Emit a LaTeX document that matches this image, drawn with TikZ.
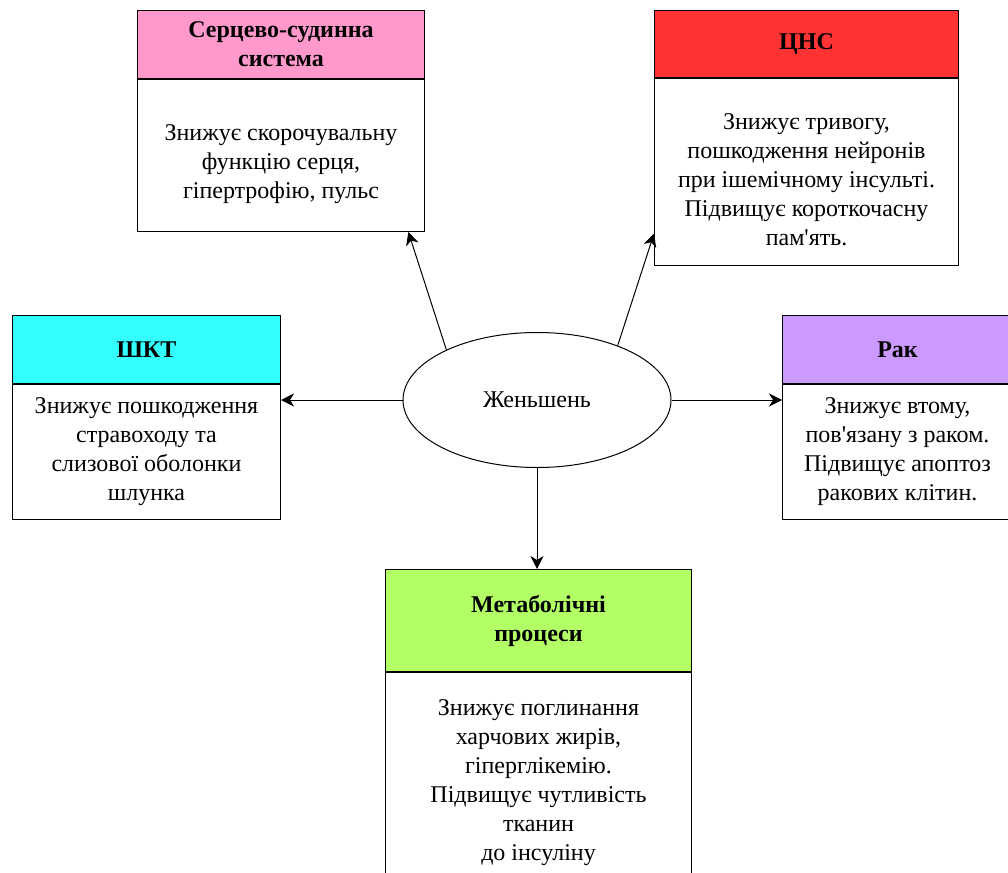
\documentclass[tikz,border=0pt]{standalone}
\usepackage{fontspec}
\setmainfont{Liberation Serif}
\usetikzlibrary{arrows.meta}
\usetikzlibrary{positioning}
\usetikzlibrary{shapes.geometric}
\definecolor{cardPink}{RGB}{255,153,204}
\definecolor{cardRed}{RGB}{255,51,51}
\definecolor{cardCyan}{RGB}{51,255,255}
\definecolor{cardViolet}{RGB}{204,153,255}
\definecolor{cardGreen}{RGB}{179,255,102}
\tikzset{head/.style = {draw, line width = 1, anchor = north west, align = center,
                        inner sep = 0, font = \fontsize{24}{29}\selectfont\bfseries}}
\tikzset{body/.style = {draw, line width = 1, fill = white, inner sep = 0}}
\tikzset{bodytext/.style = {align = center, inner sep = 0, font = \fontsize{24}{29}\selectfont}}
\tikzset{arr/.style = {-{Stealth[length = 13, width = 13, inset = 4]}, line width = 1}}

\begin{document}
\begin{tikzpicture}[x = 1pt, y = -1pt]
      \useasboundingbox (0, 0) rectangle (1008, 872);

      \node [ellipse, draw, line width = 1, minimum width = 268, minimum height = 135,
             inner sep = 0, font = \fontsize{24}{29}\selectfont] (gin) at (537, 400) {Женьшень};

      % top left
      \node [head, fill = cardPink, minimum width = 287, minimum height = 68] (cvsHead) at (137, 10)
            {Серцево-судинна\\система};
      \node [body, minimum width = 287, minimum height = 152, below = 0pt of cvsHead] (cvsBody) {};
      \node [bodytext] (cvsText) at ([yshift = -9]cvsBody.center)
            {Знижує скорочувальну\\функцію серця,\\ гіпертрофію, пульс};

      % top right
      \node [head, fill = cardRed, minimum width = 304, minimum height = 67] (cnsHead) at (654, 10) {ЦНС};
      \node [body, minimum width = 304, minimum height = 187, below = 0pt of cnsHead] (cnsBody) {};
      \node [bodytext] (cnsText) at ([yshift = -8]cnsBody.center)
            {Знижує тривогу,\\пошкодження нейронів\\при ішемічному інсульті.\\Підвищує короткочасну\\пам\textquotesingle ять.};

      % left
      \node [head, fill = cardCyan, minimum width = 268, minimum height = 68] (gitHead) at (12, 315) {ШКТ};
      \node [body, minimum width = 268, minimum height = 135, below = 0pt of gitHead] (gitBody) {};
      \node [bodytext] (gitText) at (gitBody.center)
            {Знижує пошкодження\\стравоходу та\\слизової оболонки\\шлунка};

      % right
      \node [head, fill = cardViolet, minimum width = 230, minimum height = 68] (cancerHead) at (782, 315) {Рак};
      \node [body, minimum width = 230, minimum height = 135, below = 0pt of cancerHead] (cancerBody) {};
      \node [bodytext] (cancerText) at (cancerBody.center)
            {Знижує втому,\\пов\textquotesingle язану з раком.\\Підвищує апоптоз\\ракових клітин.};

      % bottom
      \node [head, fill = cardGreen, minimum width = 306, minimum height = 102] (metaHead) at (385, 569)
            {Метаболічні\\процеси};
      \node [body, minimum width = 306, minimum height = 220, below = 0pt of metaHead] (metaBody) {};
      \node [bodytext] (metaText) at (metaBody.center)
            {Знижує поглинання\\харчових жирів,\\гіперглікемію.\\Підвищує чутливість\\тканин\\до інсуліну};

      \draw [arr] (gin.151) -- (cvsBody.-31.6);
      \draw [arr] (gin.34.7) -- (cnsBody.202.4);
      \draw [arr] (gin.west) -- (gin.west -| gitBody.east);
      \draw [arr] (gin.east) -- (gin.east -| cancerBody.west);
      \draw [arr] (gin.south) -- (gin.south |- metaHead.north);
\end{tikzpicture}
\end{document}
